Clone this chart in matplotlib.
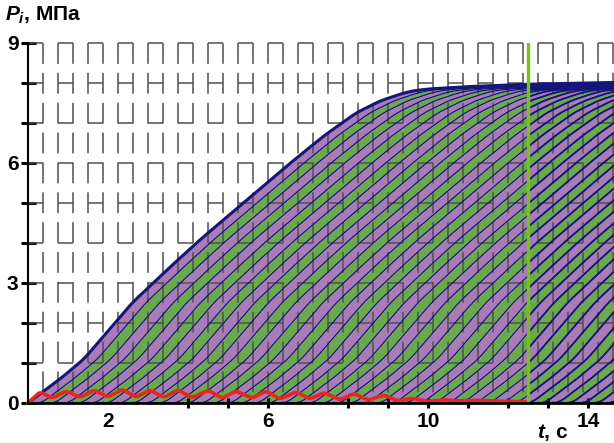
import numpy as np
import matplotlib
matplotlib.use("Agg")
import matplotlib.pyplot as plt

plt.rcParams['font.family'] = ['Liberation Sans', 'DejaVu Sans']
plt.rcParams['font.weight'] = 'bold'
plt.rcParams['mathtext.fontset'] = 'custom'
plt.rcParams['mathtext.it'] = 'Liberation Sans:italic:bold'
plt.rcParams['mathtext.rm'] = 'Liberation Sans:bold'
plt.rcParams['lines.scale_dashes'] = False

front_t = [0.0, 0.4, 0.8, 1.4, 2.0, 2.6, 3.5, 4.3, 5.5, 6.5, 7.4, 8.2, 8.8, 9.3, 9.6, 10.0, 11.0, 12.5, 15.0]
front_p = [0.0, 0.3, 0.6, 1.1, 1.8, 2.5, 3.35, 4.08, 5.1, 5.95, 6.68, 7.25, 7.55, 7.72, 7.8, 7.85, 7.91, 7.97, 8.02]
# time lag between neighbouring curves P_i
lag = 0.34

# residual pressure (red line)
res_t = [0.0, 0.3, 0.6, 0.95, 1.3, 1.65, 2.0, 2.35, 2.7, 3.05, 3.4, 3.75, 4.1, 4.5, 4.85, 5.2,
         5.6, 5.95, 6.3, 6.7, 7.05, 7.4, 7.8, 8.15, 8.5, 8.9, 9.25, 9.6, 10.0, 10.4, 10.8,
         11.2, 11.6, 12.0, 12.5]
res_p = [0.0, 0.28, 0.12, 0.3, 0.14, 0.32, 0.15, 0.34, 0.15, 0.32, 0.14, 0.33, 0.13, 0.32, 0.12, 0.3,
         0.12, 0.3, 0.1, 0.28, 0.1, 0.26, 0.08, 0.24, 0.07, 0.2, 0.05, 0.12, 0.04, 0.08, 0.05,
         0.07, 0.05, 0.04, 0.03]

t_valve = 12.5

x_ticks = [2, 4, 5, 6, 8, 9, 10, 11, 12, 13, 14]
x_labels = ['2', '', '', '6', '', '', '10', '', '', '', '14']
y_ticks = [0, 1, 2, 3, 4, 5, 6, 7, 8, 9]
y_labels = ['0', '', '', '3', '', '', '6', '', '', '9']

t_max = 14.65

purple = '#a97cb8'
green = '#6aaa4c'
navy = '#16157a'


def smoothed(xp, fp, step, width, lo, hi):
    grid = np.arange(lo, hi + step / 2, step)
    vals = np.interp(grid, xp, fp, left=fp[0], right=fp[-1])
    w = max(3, int(width / step) | 1)
    vals = np.convolve(np.pad(vals, w // 2, mode='edge'), np.ones(w) / w, mode='valid')
    return grid, vals


tt, ff = smoothed(front_t, front_p, 0.005, 0.3, -2, 17)
rt, rp = smoothed(res_t, res_p, 0.005, 0.14, 0, t_valve)
rp[0] = 0.0


def front(t):
    return np.interp(t, tt, ff)


fig = plt.figure(figsize=(6.14, 4.43), dpi=100)
ax = fig.add_axes([28 / 614, 40 / 443, 586 / 614, 360 / 443])
ax.set_xlim(0, t_max)
ax.set_ylim(0, 9)

t = np.linspace(0, t_max, 2500)
n = int(t_max / lag) + 2
curves = [front(t - k * lag) for k in range(n)]
for k in range(n - 1):
    ax.fill_between(t, curves[k + 1], curves[k], color=purple if k % 2 == 0 else green,
                    lw=0, zorder=1)
right = t >= t_valve
for k in range(n):
    ax.plot(t, curves[k], color=navy, lw=2.2 if k == 0 else 0.9, zorder=3)
    if k > 0:
        ax.plot(t[right], curves[k][right], color=navy, lw=1.3, zorder=3)

# dashed grid
xs = np.arange(0.375, t_max, 0.375)
ax.vlines(xs, 9, 0, colors='#505050', lw=1.1, linestyles=[(0, (15, 6.5))], zorder=2, clip_on=False)
ax.hlines(range(1, 10), 0, t_max, colors='#505050', lw=1.1, linestyles=[(0, (10.8, 10.8))],
          zorder=2, clip_on=False)

ax.plot(rt, rp, color='#e8261c', lw=2.6, zorder=4, clip_on=False)
ax.axvline(t_valve, color='#78c01e', lw=2.4, zorder=5)

ax.set_xticks(x_ticks, x_labels)
ax.set_yticks(y_ticks, y_labels)
ax.tick_params(axis='y', direction='inout', length=10.8, width=2.2, pad=1.5, labelsize=15)
ax.tick_params(axis='x', direction='inout', length=6.5, width=2.2, pad=3.5, labelsize=15)
ax.xaxis.get_major_ticks()[0].tick1line.set_visible(False)

for s in ['top', 'right']:
    ax.spines[s].set_visible(False)
ax.spines['left'].set_linewidth(1.5)
ax.spines['bottom'].set_linewidth(2)
ax.spines['left'].set_zorder(6)
ax.spines['bottom'].set_zorder(6)

fig.text(5 / 614, 1 - 21 / 443, r'$P_i$, МПа', fontsize=15, va='baseline', ha='left')
fig.text(537 / 614, 1 - 438 / 443, r'$t$, с', fontsize=15, va='baseline', ha='left')

fig.savefig('out.png', dpi=100)
